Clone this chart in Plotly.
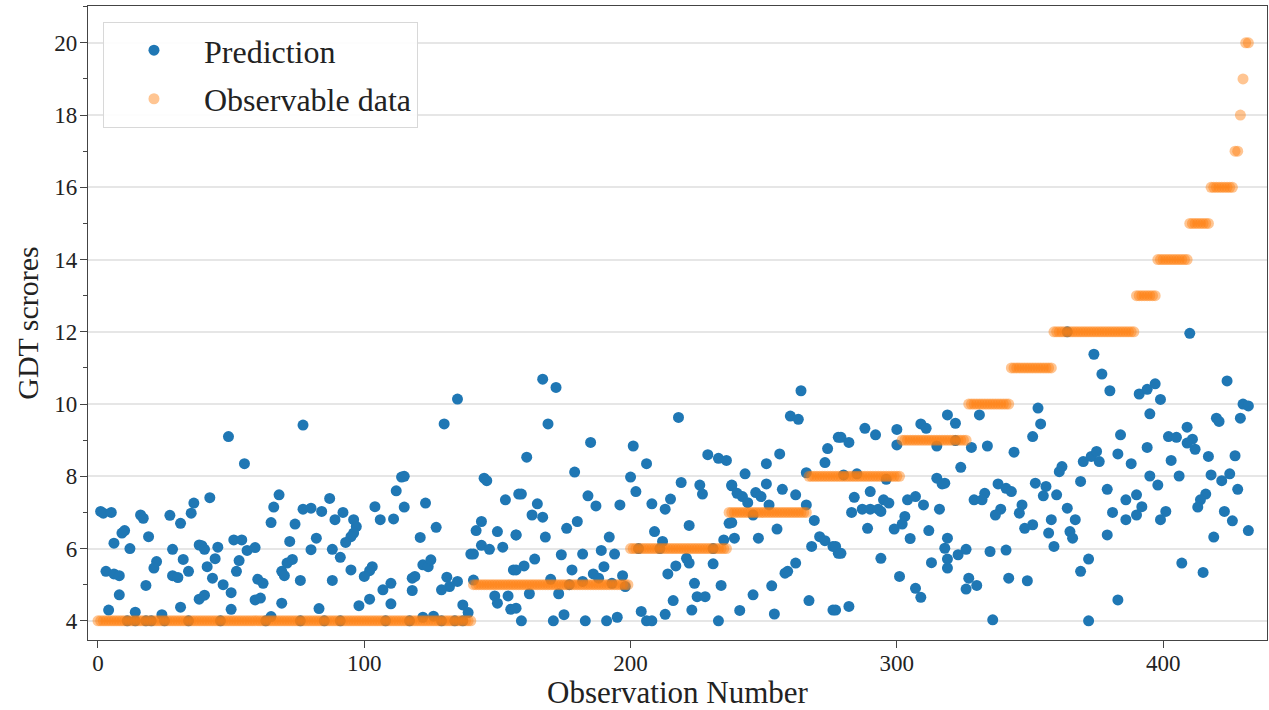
import plotly.graph_objects as go

# ---- Prediction points (observation index, GDT score) ----
pred_index = [
    1, 2, 5, 16, 17, 27, 31, 35, 36, 10, 9, 6, 19, 12, 28, 38, 22, 21, 32, 34,
    3, 6, 8, 28, 30, 18, 8, 38, 4, 14, 31, 24, 11, 14, 18, 20, 25, 34,
    49, 55, 77, 42, 68, 66, 65, 74, 77, 39, 40, 45, 51, 54, 56, 59, 44, 41, 53, 52,
    43, 47, 50, 60, 62, 69, 70, 71, 73, 72, 76, 40, 59, 61, 69, 50, 65, 46, 63, 76,
    80, 87, 84, 89, 92, 96, 97, 96, 95, 93, 82, 80, 88, 91, 95, 88, 83, 104, 106, 112,
    114, 115, 111, 115, 103, 102, 100, 107, 110, 102, 98, 110, 118, 85, 91, 108, 117,
    135, 130, 145, 146, 123, 127, 121, 153, 158, 144, 142, 150, 157, 140, 141, 144, 147, 152, 122, 124,
    125, 119, 118, 131, 135, 132, 129, 141, 156, 149, 150, 154, 155, 137, 139, 122, 126, 134, 137, 129,
    167, 172, 169, 185, 161, 179, 159, 165, 163, 167, 184, 187, 196, 157, 168, 176, 180, 192, 174, 182,
    189, 194, 190, 157, 160, 164, 178, 186, 188, 170, 182, 177, 193, 197, 162, 173, 157, 175, 159, 171,
    183, 191, 195,
    218, 201, 206, 229, 233, 236, 200, 202, 219, 226, 227, 238, 208, 213, 215, 222, 237, 235, 209, 212,
    221, 217, 222, 214, 231, 198, 224, 225, 228, 234, 216, 204, 206, 208, 213, 223, 233, 203, 211, 231,
    264, 260, 263, 278, 274, 273, 256, 251, 243, 266, 238, 240, 242, 244, 251, 247, 249, 252, 257, 262,
    266, 269, 271, 273, 276, 278, 246, 238, 239, 248, 255, 268, 262, 259, 258, 253, 246, 241, 254, 267,
    276,
    309, 311, 319, 288, 292, 300, 279, 282, 300, 315, 280, 285, 296, 315, 317, 290, 284, 295, 297, 283,
    287, 290, 293, 294, 304, 307, 310, 316, 303, 302, 289, 299, 305, 312, 277, 279, 318, 319, 294, 313,
    301, 307, 309, 277, 282,
    353, 354, 351, 322, 331, 322, 328, 334, 344, 324, 318, 338, 341, 343, 352, 356, 355, 329, 333, 332,
    339, 337, 347, 346, 351, 348, 358, 357, 319, 323, 326, 335, 341, 359, 319, 327, 330, 326, 342, 349,
    336,
    364, 374, 377, 380, 391, 394, 397, 399, 395, 384, 394, 383, 370, 373, 375, 376, 388, 362, 361, 369,
    360, 379, 395, 398, 386, 390, 392, 390, 386, 381, 364, 367, 365, 366, 379, 399, 372, 369, 383, 372,
    410, 424, 430, 432, 420, 421, 429, 409, 402, 405, 411, 409, 412, 417, 427, 403, 406, 418, 422, 425,
    428, 416, 414, 413, 401, 423, 426, 432, 419, 407, 415,
]
pred_value = [
    7.03, 6.98, 7.00, 6.93, 6.84, 6.92, 6.70, 6.98, 7.26, 6.50, 6.43, 6.15, 6.33, 6.00, 5.98, 6.10, 5.64, 5.46, 5.70, 5.37,
    5.37, 5.30, 5.25, 5.25, 5.20, 4.98, 4.72, 4.60, 4.30, 4.24, 4.38, 4.17, 4.00, 4.00, 4.00, 4.00, 4.00, 4.00,
    9.10, 8.35, 9.42, 7.41, 7.49, 7.15, 6.72, 6.68, 7.09, 6.08, 5.98, 6.04, 6.24, 6.24, 5.95, 6.03, 5.72, 5.50, 5.67, 5.37,
    5.18, 5.00, 4.78, 5.15, 5.04, 5.37, 5.25, 5.60, 5.70, 6.20, 5.12, 4.71, 4.58, 4.63, 4.49, 4.32, 4.12, 4.00, 4.00, 4.00,
    7.12, 7.39, 7.03, 6.80, 7.00, 6.80, 6.61, 6.43, 6.33, 6.17, 6.29, 5.97, 5.98, 5.76, 5.41, 5.12, 4.34, 7.16, 6.80, 7.60,
    7.98, 8.00, 6.82, 7.15, 5.50, 5.39, 5.23, 4.86, 5.04, 4.60, 4.42, 4.47, 5.18, 4.00, 4.00, 4.00, 4.00,
    10.14, 9.45, 7.95, 7.88, 7.26, 6.59, 6.31, 7.35, 7.51, 6.75, 6.50, 6.47, 6.38, 5.85, 5.85, 6.09, 5.98, 6.04, 5.55, 5.50,
    5.69, 5.23, 4.84, 5.21, 5.09, 4.95, 4.86, 5.13, 5.41, 4.69, 4.49, 4.69, 4.32, 4.44, 4.23, 4.10, 4.13, 4.00, 4.00, 4.00,
    10.69, 10.46, 9.45, 8.94, 8.53, 8.12, 7.51, 7.24, 6.93, 6.87, 7.46, 7.18, 7.21, 6.38, 6.32, 6.56, 6.75, 6.32, 5.83, 5.85,
    5.95, 5.85, 5.50, 5.41, 5.52, 5.71, 5.41, 5.30, 5.18, 5.15, 5.09, 5.00, 5.04, 5.25, 4.75, 4.75, 4.35, 4.17, 4.00, 4.00,
    4.00, 4.00, 4.10,
    9.63, 8.84, 8.35, 8.60, 8.50, 8.44, 7.98, 7.58, 7.83, 7.76, 7.51, 7.74, 7.24, 7.09, 7.37, 6.64, 6.70, 6.24, 6.47, 6.20,
    5.73, 5.52, 5.60, 5.30, 5.58, 4.95, 5.04, 4.67, 4.67, 4.98, 4.56, 4.26, 4.00, 4.00, 4.18, 4.30, 4.00, 6.00, 6.00, 6.00,
    10.37, 9.67, 9.58, 9.08, 8.77, 8.38, 8.62, 8.35, 8.07, 8.10, 7.76, 7.53, 7.44, 7.27, 7.79, 7.55, 7.44, 7.21, 7.64, 7.49,
    7.21, 6.78, 6.33, 6.22, 6.06, 5.87, 6.93, 6.72, 6.29, 6.29, 6.54, 6.06, 5.60, 5.37, 5.32, 4.97, 4.72, 4.29, 4.19, 4.56,
    4.30,
    9.45, 9.33, 9.70, 9.33, 9.15, 9.30, 9.08, 8.94, 8.87, 8.84, 8.04, 8.07, 7.92, 7.95, 7.79, 7.58, 7.42, 7.35, 7.26, 7.00,
    7.09, 7.09, 7.09, 7.03, 7.35, 7.44, 7.21, 7.09, 6.89, 6.68, 6.56, 6.54, 6.28, 6.50, 6.06, 5.87, 6.01, 5.71, 5.73, 5.61,
    5.23, 4.90, 4.65, 4.30, 4.40,
    9.89, 9.45, 9.10, 9.47, 9.70, 8.99, 8.80, 8.84, 8.67, 8.25, 7.81, 7.79, 7.67, 7.58, 7.81, 7.72, 7.46, 7.35, 7.53, 7.35,
    7.09, 6.93, 7.21, 6.98, 6.66, 6.56, 6.80, 6.43, 6.29, 5.83, 5.98, 5.92, 5.96, 6.06, 5.46, 5.18, 4.98, 4.88, 5.18, 5.11,
    4.03,
    12.00, 11.38, 10.83, 10.37, 10.28, 10.41, 10.56, 10.13, 9.73, 9.15, 8.80, 8.62, 8.41, 8.55, 8.69, 8.41, 8.35, 8.27, 8.13, 7.86,
    7.49, 7.64, 8.01, 7.76, 7.35, 7.49, 7.16, 6.93, 6.80, 7.00, 7.12, 6.80, 6.47, 6.29, 6.38, 6.80, 5.71, 5.37, 4.58, 4.00,
    11.96, 10.64, 10.00, 9.95, 9.61, 9.52, 9.61, 9.36, 9.10, 9.08, 9.03, 8.92, 8.75, 8.55, 8.57, 8.44, 8.01, 8.04, 7.88, 8.07,
    7.64, 7.51, 7.35, 7.15, 7.03, 7.03, 6.77, 6.50, 6.32, 5.60, 5.34,
]
assert len(pred_index) == len(pred_value)

# ---- Observable data: step levels with first/last observation index of each step ----
obs_levels = [4, 5, 6, 7, 8, 9, 10, 11, 12, 13, 14, 15, 16, 17, 18, 19, 20]
obs_first  = [0, 141, 200, 237, 267, 302, 327, 343, 359, 390, 398, 410, 418, 427, 429, 430, 431]
obs_last   = [140, 199, 236, 266, 301, 326, 342, 358, 389, 397, 409, 417, 426, 428, 429, 430, 432]

obs_index, obs_value = [], []
for lvl, a, b in zip(obs_levels, obs_first, obs_last):
    for i in range(a, b + 1):
        obs_index.append(i)
        obs_value.append(lvl)

y_ticks = [4, 6, 8, 10, 12, 14, 16, 18, 20]
y_minor = [5, 7, 9, 11, 13, 15, 17, 19, 21]
x_ticks = [0, 100, 200, 300, 400]

SERIF = "Liberation Serif, Times New Roman, serif"
INK = "#222222"

fig = go.Figure()
fig.add_trace(go.Scatter(
    x=pred_index, y=pred_value, mode="markers", name="Prediction", legendgroup="p",
    marker=dict(color="#1f77b4", size=11, line=dict(width=0)),
))
fig.add_trace(go.Scatter(
    x=obs_index, y=obs_value, mode="markers", name="Observable data", legendgroup="o",
    marker=dict(color="#ff7f0e", size=11, opacity=0.45, line=dict(width=0)),
))

axis_common = dict(
    showline=True, mirror=True, linecolor="#444444", linewidth=1.3,
    ticks="outside", ticklen=7, tickcolor="#444444", tickwidth=1.2,
    tickfont=dict(family=SERIF, size=23, color=INK),
    zeroline=False, automargin=False,
)
fig.update_xaxes(
    range=[-3.75, 439], tickvals=x_ticks, showgrid=False, ticklabelstandoff=-5,
    title=dict(text="Observation Number", font=dict(family=SERIF, size=31, color=INK), standoff=0),
    **axis_common,
)
fig.update_yaxes(
    range=[3.47, 21.02], tickvals=y_ticks, showgrid=True, gridcolor="#e6e6e6", gridwidth=1.5,
    ticklabelstandoff=-2,
    minor=dict(tickvals=y_minor, ticks="outside", ticklen=4, tickcolor="#444444", showgrid=False),
    title=dict(text="GDT scrores", font=dict(family=SERIF, size=30, color=INK), standoff=6),
    **axis_common,
)
fig.update_layout(
    width=1269, height=710,
    margin=dict(l=88, r=2, t=6, b=70, autoexpand=False),
    plot_bgcolor="white", paper_bgcolor="white",
    showlegend=True,
    legend=dict(
        x=0.0127, y=0.975, xanchor="left", yanchor="top",
        bgcolor="rgba(255,255,255,0.9)", bordercolor="#d8d8d8", borderwidth=1,
        font=dict(family=SERIF, size=32, color=INK),
        itemwidth=90, tracegroupgap=4,
    ),
)
fig.write_html(
    "out.html",
    config={"displayModeBar": False},
    post_script="document.body.style.margin='0px'; document.body.style.overflow='hidden';",
)
